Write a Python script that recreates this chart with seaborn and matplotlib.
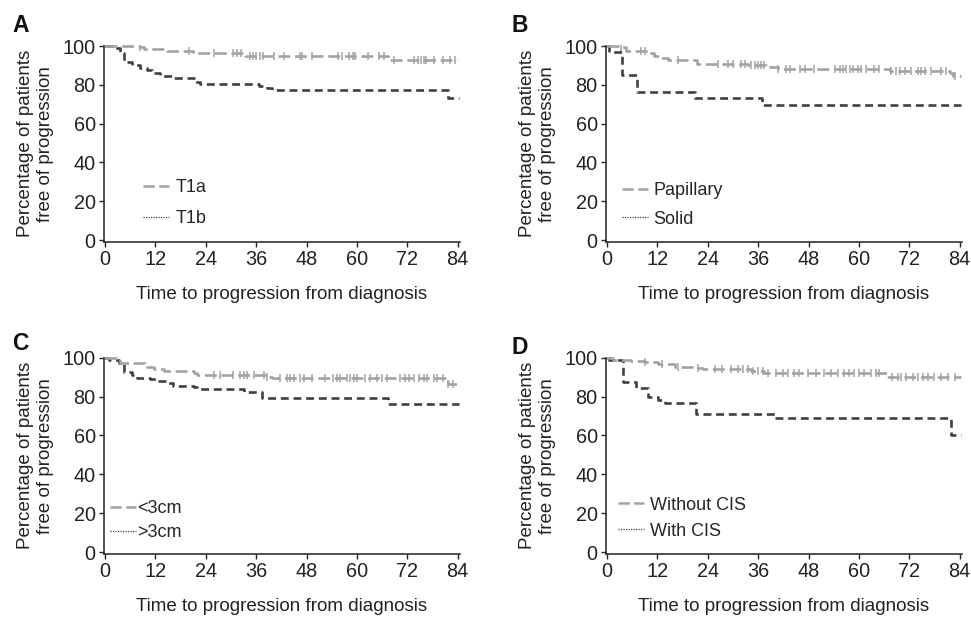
import numpy as np
import matplotlib
matplotlib.use("Agg")
import matplotlib.pyplot as plt
from matplotlib.lines import Line2D
import seaborn as sns

# ---------------- data ----------------
# Panel A
a_t1a_t = [0, 8.4, 9.2, 14.8, 21.0, 21.5, 33.0, 33.4, 67.5, 83.8]
a_t1a_v = [100, 99.3, 98.5, 97.6, 97.1, 96.6, 96.0, 94.8, 92.6, 92.6]
a_t1a_cens = [8.4, 20, 26, 30.5, 31.5, 32.4, 34.6, 35.3, 36.0, 36.8, 37.6, 40.2, 42.6,
              46.4, 47.0, 49.4, 55.6, 56.5, 58.2, 59.0, 59.6, 62.6, 65.3, 66.4, 68.8,
              73.5, 74.6, 75.3, 76.0, 76.5, 78.4, 80.6, 82.2, 83.4]
a_t1b_t = [0, 2.0, 3.6, 4.4, 6.4, 8.4, 10.0, 11.2, 13.2, 16.3, 21.5, 22.7, 36.6, 38.6, 39.8, 81.8, 84.4]
a_t1b_v = [100, 99.0, 96.5, 92.0, 90.2, 88.8, 87.6, 85.9, 84.5, 83.3, 81.6, 80.4, 79.4, 78.2, 77.3, 73.4, 73.4]

# Panel B
b_pap_t = [0, 3.4, 4.6, 9.8, 11.3, 12.9, 14.5, 21.5, 33.6, 37.9, 40.7, 67.3, 81.6, 82.4, 84.3]
b_pap_v = [100, 99.4, 97.4, 96.2, 94.9, 93.7, 92.6, 90.8, 90.1, 89.4, 88.2, 87.3, 86.0, 84.6, 84.6]
b_pap_cens = [3.4, 8.2, 9.0, 16.9, 26.4, 28.8, 30.0, 32.0, 32.8, 34.4, 35.2, 35.9, 36.7, 37.5,
              40.7, 42.7, 43.5, 45.9, 47.1, 49.4, 54.2, 55.4, 56.2, 57.0, 57.8, 58.6, 59.8,
              60.6, 61.8, 63.7, 64.9, 67.7, 68.9, 69.7, 70.9, 72.5, 74.1, 74.9, 75.7, 77.2,
              79.6, 80.8, 82.8]
b_sol_t = [0, 0.4, 3.6, 7.2, 21.0, 36.9, 84.4]
b_sol_v = [100, 96.7, 85.3, 76.5, 73.1, 69.7, 69.7]

# Panel C
c_lt_t = [0, 3.6, 9.6, 11.6, 14.0, 21.1, 21.9, 38.6, 39.8, 81.8, 84.0]
c_lt_v = [100, 97.4, 95.4, 94.0, 93.2, 92.0, 91.1, 90.2, 89.8, 86.3, 86.3]
c_lt_cens = [25.9, 27.5, 30.6, 32.2, 33.0, 33.8, 35.4, 37.8, 38.6, 41.7, 43.3, 44.1, 44.9,
             46.5, 47.3, 49.3, 52.5, 54.4, 55.2, 56.0, 57.6, 58.4, 59.2, 60.0, 61.9, 63.2,
             64.7, 65.9, 67.1, 70.3, 71.5, 72.3, 73.5, 74.7, 75.9, 76.7, 78.3, 79.0, 80.6,
             81.8, 83.0]
c_gt_t = [0, 0.9, 3.3, 4.4, 6.4, 7.6, 10.8, 12.4, 14.8, 16.3, 21.1, 22.7, 33.0, 37.4, 67.5, 84.4]
c_gt_v = [100, 98.8, 97.1, 92.8, 91.1, 89.4, 89.0, 88.0, 86.8, 85.6, 85.1, 83.7, 82.3, 79.5, 76.2, 76.2]

# Panel D
d_wo_t = [0, 1.4, 5.8, 9.0, 12.1, 16.1, 20.8, 22.8, 34.3, 37.5, 66.8, 84.3]
d_wo_v = [100, 99.1, 98.3, 97.6, 96.7, 95.4, 94.9, 94.0, 93.3, 92.0, 90.2, 90.2]
d_wo_cens = [9.0, 13.0, 16.9, 21.6, 25.6, 27.5, 29.5, 31.1, 32.3, 33.5, 34.7, 35.9, 37.1,
             38.3, 40.3, 41.8, 43.0, 44.6, 45.8, 47.8, 49.7, 51.7, 53.3, 54.9, 56.5, 57.7,
             58.9, 60.1, 61.2, 62.8, 64.0, 64.8, 68.0, 69.2, 70.0, 71.2, 72.8, 74.0, 75.2,
             76.4, 78.0, 79.6, 81.2, 82.8]
d_w_t = [0, 0.4, 3.8, 7.0, 9.7, 12.1, 13.7, 21.1, 39.9, 81.9, 84.4]
d_w_v = [100, 98.8, 87.3, 84.2, 80.0, 78.3, 76.5, 71.1, 69.2, 60.3, 60.3]

panel_letters = ["A", "B", "C", "D"]
legend_labels = [["T1a", "T1b"], ["Papillary", "Solid"], ["<3cm", ">3cm"], ["Without CIS", "With CIS"]]
x_ticks = [0, 12, 24, 36, 48, 60, 72, 84]
y_ticks = [0, 20, 40, 60, 80, 100]
x_label = "Time to progression from diagnosis"
y_label = "Percentage of patients\nfree of progression"

# ---------------- style ----------------
sns.set_style("ticks")
plt.rcParams["font.family"] = ["Liberation Sans", "DejaVu Sans"]
plt.rcParams["axes.unicode_minus"] = False

LIGHT = "#a3a3a3"
DARK = "#404040"
FS_TICK = 14.3
FS_LAB = 13.5
FS_LEG = 13.0

fig = plt.figure(figsize=(9.71, 6.17), dpi=100)

rects = [
    [0.1071, 0.6078, 0.3666, 0.3185],
    [0.6241, 0.6078, 0.3666, 0.3185],
    [0.1071, 0.1021, 0.3666, 0.3190],
    [0.6241, 0.1021, 0.3666, 0.3190],
]
panels = [
    (a_t1a_t, a_t1a_v, a_t1a_cens, a_t1b_t, a_t1b_v),
    (b_pap_t, b_pap_v, b_pap_cens, b_sol_t, b_sol_v),
    (c_lt_t, c_lt_v, c_lt_cens, c_gt_t, c_gt_v),
    (d_wo_t, d_wo_v, d_wo_cens, d_w_t, d_w_v),
]
legend_anchor = [(0.11, 0.32), (0.045, 0.305), (0.017, 0.272), (0.034, 0.292)]
legend_spacing = [0.78, 0.65, 0.36, 0.5]
legend_textpad = [0.35, 0.3, 0.05, 0.3]
letter_pos = [(0.013, 0.958), (0.527, 0.958), (0.013, 0.443), (0.527, 0.437)]


def step_value(ts, vs, t):
    idx = np.searchsorted(np.asarray(ts), t, side="right") - 1
    return np.asarray(vs)[idx]


for i, (rect, (lt, lv, lc, dt, dv)) in enumerate(zip(rects, panels)):
    ax = fig.add_axes(rect)
    sns.lineplot(x=dt, y=dv, ax=ax, drawstyle="steps-post", estimator=None, sort=False,
                 color=DARK, linewidth=1.9, linestyle=(0, (3.0, 1.8)), legend=False)
    sns.lineplot(x=lt, y=lv, ax=ax, drawstyle="steps-post", estimator=None, sort=False,
                 color=LIGHT, linewidth=1.9, linestyle=(0, (4.5, 1.8)), legend=False)
    cy = [step_value(lt, lv, t) for t in lc]
    sns.scatterplot(x=lc, y=cy, ax=ax, marker="|", s=30, color=LIGHT, linewidth=1.1,
                    legend=False, zorder=3)

    ax.set_xlim(-0.25, 84.55)
    ax.set_ylim(-1.0, 100.3)
    ax.set_xticks(x_ticks)
    ax.set_yticks(y_ticks)
    for s in ["top", "right"]:
        ax.spines[s].set_visible(False)
    for s in ["left", "bottom"]:
        ax.spines[s].set_linewidth(1.1)
        ax.spines[s].set_color("#222222")
    ax.spines["left"].set_bounds(-1.0, 100)
    ax.tick_params(direction="out", length=3.5, width=1.0, labelsize=FS_TICK, pad=2.5,
                   colors="#222222")
    ax.set_xlabel(x_label, fontsize=FS_LAB, labelpad=12, color="#222222")
    ax.set_ylabel(y_label, fontsize=FS_LAB, labelpad=6, color="#222222", linespacing=1.25)

    handles = [
        Line2D([], [], color=LIGHT, linewidth=1.8, linestyle=(0, (4.5, 1.8))),
        Line2D([], [], color=DARK, linewidth=0.9, linestyle=(0, (1.0, 1.0))),
    ]
    ax.legend(handles, legend_labels[i], loc="upper left", bbox_to_anchor=legend_anchor[i],
              frameon=False, fontsize=FS_LEG, handlelength=1.45,
              handletextpad=legend_textpad[i], labelspacing=legend_spacing[i],
              borderpad=0, borderaxespad=0)

    fig.text(letter_pos[i][0], letter_pos[i][1], panel_letters[i], fontsize=16.5,
             fontweight="bold", ha="left", va="center", color="#111111")

fig.savefig("out.png", dpi=100)
